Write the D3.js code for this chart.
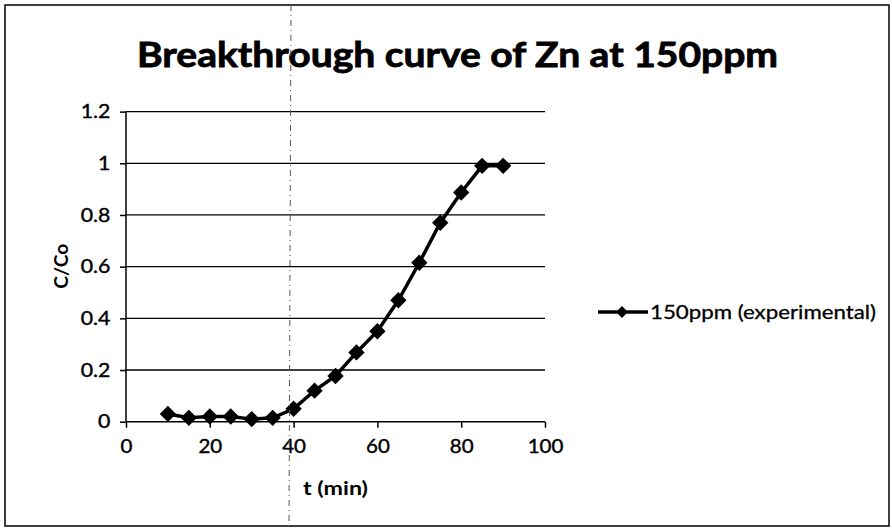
<!DOCTYPE html>
<html>
<head>
<meta charset="utf-8">
<script src="https://cdn.jsdelivr.net/npm/d3@7"></script>
<style>
  body { margin: 0; background: #fff; }
  svg { font-family: Lato, "Open Sans", sans-serif; }
</style>
</head>
<body>
<div id="chart"></div>
<script>
// breakthrough curve data
const times = [10, 15, 20, 25, 30, 35, 40, 45, 50, 55, 60, 65, 70, 75, 80, 85, 90];
const ratios = [0.03, 0.015, 0.02, 0.02, 0.01, 0.015, 0.05, 0.12, 0.177, 0.268, 0.35, 0.47, 0.615, 0.77, 0.887, 0.99, 0.99];
const xTicks = [0, 20, 40, 60, 80, 100];
const yTicks = [0, 0.2, 0.4, 0.6, 0.8, 1, 1.2];
const seriesName = "150ppm (experimental)";

const width = 892;
const height = 529;
const margin = {left: 126, right: 347, top: 111.6, bottom: 107.3};

const svg = d3.select("#chart")
  .append("svg")
  .attr("width", width)
  .attr("height", height);

// outer frame
svg.append("rect")
  .attr("x", 5).attr("y", 5)
  .attr("width", width - 8).attr("height", height - 8)
  .attr("fill", "none").attr("stroke", "#000").attr("stroke-width", 1.5);

const x = d3.scaleLinear().domain([0, 100]).range([margin.left, width - margin.right]);
const y = d3.scaleLinear().domain([0, 1.2]).range([height - margin.bottom, margin.top]);

// gridlines
svg.append("g")
  .selectAll("line")
  .data(yTicks.slice(1))
  .enter()
  .append("line")
    .attr("x1", x(0)).attr("x2", x(100))
    .attr("y1", d => y(d)).attr("y2", d => y(d))
    .attr("stroke", "#000").attr("stroke-width", 1.3);

// axes
const yAxis = svg.append("g")
  .attr("transform", `translate(${x(0)},0)`)
  .call(d3.axisLeft(y).tickValues(yTicks).tickSize(6).tickPadding(8)
    .tickFormat(d => String(d)));
const xAxis = svg.append("g")
  .attr("transform", `translate(0,${y(0)})`)
  .call(d3.axisBottom(x).tickValues(xTicks).tickSize(6).tickPadding(12));

[yAxis, xAxis].forEach(a => {
  a.select(".domain").attr("stroke", "#000").attr("stroke-width", 1.5);
  a.selectAll(".tick line").attr("stroke", "#000").attr("stroke-width", 1.5);
  a.selectAll("text").attr("font-size", "19px").attr("fill", "#000")
    .attr("stroke", "#000").attr("stroke-width", 0.4)
    .attr("font-family", "Lato, sans-serif");
});
yAxis.selectAll("text").attr("transform", "scale(1.12,1)");
xAxis.selectAll("text").attr("transform", "scale(1.08,1)");
xAxis.select(".domain").attr("d", `M${x(0)},0H${x(100)}`);
yAxis.select(".domain").attr("d", `M0,${y(1.2)}V${y(0)}`);

// series line
const line = d3.line()
  .x((d, i) => x(times[i]))
  .y(d => y(d));

svg.append("path")
  .datum(ratios)
  .attr("fill", "none")
  .attr("stroke", "#000")
  .attr("stroke-width", 3.5)
  .attr("d", line);

const diamond = d3.symbol().type(d3.symbolDiamond2).size(170);

svg.selectAll(".pt")
  .data(ratios)
  .enter()
  .append("path")
    .attr("class", "pt")
    .attr("transform", (d, i) => `translate(${x(times[i])},${y(d)})`)
    .attr("d", diamond)
    .attr("fill", "#000");

// title
svg.append("text")
  .attr("x", 137).attr("y", 67)
  .attr("font-size", "34px").attr("font-weight", "bold")
  .attr("textLength", 641).attr("lengthAdjust", "spacingAndGlyphs")
  .attr("stroke", "#000").attr("stroke-width", 0.8)
  .text("Breakthrough curve of Zn at 150ppm");

// axis titles
svg.append("text")
  .attr("x", 303).attr("y", 495)
  .attr("font-size", "19px").attr("font-weight", "bold")
  .attr("textLength", 65).attr("lengthAdjust", "spacingAndGlyphs")
  .text("t (min)");

svg.append("text")
  .attr("transform", `translate(68,${y(0.6) + 22}) rotate(-90)`)
  .attr("font-size", "19px").attr("font-weight", "bold")
  .attr("textLength", 45).attr("lengthAdjust", "spacingAndGlyphs")
  .text("C/Co");

// legend
const lg = svg.append("g").attr("transform", "translate(598,312)");
lg.append("line").attr("x1", 0).attr("x2", 50).attr("y1", 0).attr("y2", 0)
  .attr("stroke", "#000").attr("stroke-width", 3.5);
lg.append("path").attr("transform", "translate(24,0)")
  .attr("d", d3.symbol().type(d3.symbolDiamond2).size(90)).attr("fill", "#000");
lg.append("text").attr("x", 52).attr("y", 7).attr("font-size", "19px")
  .attr("stroke", "#000").attr("stroke-width", 0.3)
  .attr("textLength", 226).attr("lengthAdjust", "spacingAndGlyphs")
  .text(seriesName);

// faint scan fold line
svg.append("line")
  .attr("x1", 291).attr("x2", 289).attr("y1", 5).attr("y2", 526)
  .attr("stroke", "#555").attr("stroke-width", 1).attr("stroke-dasharray", "6,4,1,4");
</script>
</body>
</html>
